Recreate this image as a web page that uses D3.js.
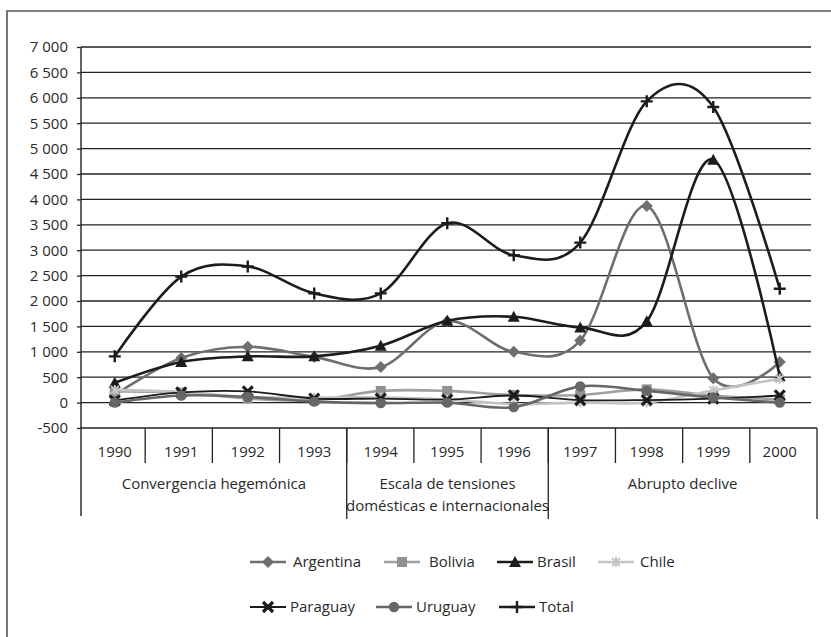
<!DOCTYPE html>
<html>
<head>
<meta charset="utf-8">
<script src="https://cdn.jsdelivr.net/npm/d3@7/dist/d3.min.js"></script>
<style>
  html, body { margin: 0; padding: 0; background: #fff; }
  svg { display: block; font-family: "Open Sans", "DejaVu Sans", sans-serif; }
</style>
</head>
<body>
<svg id="chart" width="831" height="637"></svg>
<script>
// ---------------- DATA ----------------
const years = ["1990","1991","1992","1993","1994","1995","1996","1997","1998","1999","2000"];
const yTickValues = [-500, 0, 500, 1000, 1500, 2000, 2500, 3000, 3500, 4000, 4500, 5000, 5500, 6000, 6500, 7000];

const argentina = [150, 880, 1100, 900, 700, 1600, 1000, 1220, 3870, 480, 800];
const bolivia   = [220, 200, 80, 50, 230, 230, 150, 150, 260, 140, 60];
const brasil    = [390, 800, 910, 910, 1120, 1610, 1690, 1480, 1600, 4780, 520];
const chile     = [250, 210, 110, 100, 100, 60, -30, 0, 0, 240, 470];
const paraguay  = [40, 200, 220, 80, 80, 60, 140, 50, 50, 80, 140];
const uruguay   = [0, 140, 110, 20, -10, 0, -90, 320, 230, 100, 0];
const total     = [910, 2480, 2680, 2150, 2150, 3530, 2900, 3150, 5930, 5820, 2240];

const periodNames = [["Convergencia hegemónica"], ["Escala de tensiones", "domésticas e internacionales"], ["Abrupto declive"]];
const periodStart = ["1990", "1994", "1997"];
const periodEnd   = ["1993", "1996", "2000"];

const seriesNames = ["Argentina", "Bolivia", "Brasil", "Chile", "Paraguay", "Uruguay", "Total"];
const seriesValues = [argentina, bolivia, brasil, chile, paraguay, uruguay, total];

// ---------------- STYLE ----------------
const styles = {
  Argentina: { color: "#6e6e6e", width: 2.6, marker: "diamond", mcolor: "#6e6e6e" },
  Bolivia:   { color: "#a0a0a0", width: 2.6, marker: "square",  mcolor: "#919191" },
  Brasil:    { color: "#1c1c1c", width: 2.6, marker: "triangle", mcolor: "#1c1c1c" },
  Chile:     { color: "#c4c4c4", width: 2.6, marker: "star",    mcolor: "#c4c4c4" },
  Paraguay:  { color: "#1c1c1c", width: 1.8, marker: "x",       mcolor: "#1c1c1c" },
  Uruguay:   { color: "#666666", width: 2.6, marker: "circle",  mcolor: "#666666" },
  Total:     { color: "#1c1c1c", width: 2.6, marker: "plus",    mcolor: "#1c1c1c" }
};

const svg = d3.select("#chart");
const W = 831, H = 637;
const plotLeft = 81, plotRight = 811, plotTop = 47, plotBottom = 428;

// outer frame (only top and left edges are inside the picture)
svg.append("path")
  .attr("d", `M7,${H} L7,11 L${W},11`)
  .attr("fill", "none").attr("stroke", "#555").attr("stroke-width", 1.6);

const y = d3.scaleLinear().domain([-500, 7000]).range([plotBottom, plotTop]);
const x = d3.scaleBand().domain(years).range([81.5, 813]);
const xTable = d3.scaleBand().domain(years).range([78, 817]);

const loc = d3.formatLocale({ decimal: ",", thousands: " ", grouping: [3], currency: ["", ""], minus: "-" });
const fmt = loc.format(",d");

// gridlines
svg.append("g").selectAll("line").data(yTickValues.filter(v => v !== -500)).join("line")
  .attr("x1", plotLeft).attr("x2", plotRight)
  .attr("y1", d => y(d)).attr("y2", d => y(d))
  .attr("stroke", "#222").attr("stroke-width", 1.3);

// y axis
const yAxis = svg.append("g").attr("transform", `translate(${plotLeft},0)`)
  .call(d3.axisLeft(y).tickValues(yTickValues).tickFormat(fmt).tickSize(4).tickPadding(9));
yAxis.select(".domain").remove();
yAxis.selectAll(".tick line").attr("stroke", "#222").attr("stroke-width", 1.3);
yAxis.selectAll(".tick text").attr("fill", "#2a2a2a").style("font-size", "15px")
  .style("font-family", "'Open Sans', sans-serif");

// left axis line (extends through the category table)
svg.append("line").attr("x1", plotLeft).attr("x2", plotLeft).attr("y1", plotTop).attr("y2", 516)
  .attr("stroke", "#222").attr("stroke-width", 1.4);

// category table: top line
svg.append("line").attr("x1", plotLeft).attr("x2", xTable.range()[1])
  .attr("y1", y(-500)).attr("y2", y(-500))
  .attr("stroke", "#222").attr("stroke-width", 1.3);

// year dividers
svg.append("g").selectAll("line").data(years.slice(1)).join("line")
  .attr("x1", d => xTable(d)).attr("x2", d => xTable(d))
  .attr("y1", y(-500)).attr("y2", 463)
  .attr("stroke", "#222").attr("stroke-width", 1.3);

// period dividers + right edge
const periodLines = periodStart.slice(1).map(d => xTable(d)).concat([xTable.range()[1]]);
svg.append("g").selectAll("line").data(periodLines).join("line")
  .attr("x1", d => d).attr("x2", d => d)
  .attr("y1", y(-500)).attr("y2", 519)
  .attr("stroke", "#222").attr("stroke-width", 1.3);

// year labels
svg.append("g").selectAll("text").data(years).join("text")
  .attr("x", d => x(d) + x.bandwidth() / 2).attr("y", 452).attr("dy", "0.35em")
  .attr("text-anchor", "middle").attr("fill", "#2a2a2a").style("font-size", "15px")
  .text(d => d);

// period labels
periodNames.forEach((lines, i) => {
  const x0 = i === 0 ? plotLeft : xTable(periodStart[i]);
  const x1 = i === periodNames.length - 1 ? xTable.range()[1] : xTable(periodStart[i + 1]);
  const cx = (x0 + x1) / 2;
  lines.forEach((t, j) => {
    svg.append("text").attr("x", cx).attr("y", 484 + j * 22).attr("dy", "0.35em")
      .attr("text-anchor", "middle").attr("fill", "#2a2a2a").style("font-size", "15px")
      .text(t);
  });
});

// markers
function drawMarker(g, type, cx, cy, color) {
  switch (type) {
    case "diamond":
      g.append("path").attr("d", `M${cx},${cy-6} L${cx+6},${cy} L${cx},${cy+6} L${cx-6},${cy} Z`).attr("fill", color);
      break;
    case "square":
      g.append("rect").attr("x", cx - 5).attr("y", cy - 5).attr("width", 10).attr("height", 10).attr("fill", color);
      break;
    case "triangle":
      g.append("path").attr("d", `M${cx},${cy-6} L${cx+6},${cy+5} L${cx-6},${cy+5} Z`).attr("fill", color);
      break;
    case "circle":
      g.append("circle").attr("cx", cx).attr("cy", cy).attr("r", 5.2).attr("fill", color);
      break;
    case "x":
      g.append("path").attr("d", `M${cx-5},${cy-5} L${cx+5},${cy+5} M${cx+5},${cy-5} L${cx-5},${cy+5}`)
        .attr("stroke", color).attr("stroke-width", 3.2).attr("fill", "none");
      break;
    case "plus":
      g.append("path").attr("d", `M${cx-6},${cy} L${cx+6},${cy} M${cx},${cy-6} L${cx},${cy+6}`)
        .attr("stroke", color).attr("stroke-width", 2.4).attr("fill", "none");
      break;
    case "star":
      g.append("path").attr("d", `M${cx-4},${cy-4} L${cx+4},${cy+4} M${cx+4},${cy-4} L${cx-4},${cy+4} M${cx},${cy-5} L${cx},${cy+5}`)
        .attr("stroke", color).attr("stroke-width", 2).attr("fill", "none");
      break;
  }
}

const line = d3.line()
  .x((d, i) => x(years[i]) + x.bandwidth() / 2)
  .y(d => y(d))
  .curve(d3.curveCardinal.tension(0));

const seriesG = svg.append("g");
seriesNames.forEach((name, k) => {
  const st = styles[name];
  const g = seriesG.append("g");
  g.append("path").datum(seriesValues[k]).attr("d", line)
    .attr("fill", "none").attr("stroke", st.color).attr("stroke-width", st.width)
    .attr("stroke-linejoin", "round");
  seriesValues[k].forEach((v, i) => {
    drawMarker(g, st.marker, x(years[i]) + x.bandwidth() / 2, y(v), st.mcolor);
  });
});

// legend
const legendRows = [["Argentina", "Bolivia", "Brasil", "Chile"], ["Paraguay", "Uruguay", "Total"]];
const legendX = [[250, 384, 497, 598], [250, 376, 499]];
const legendTextGap = [7, 9, 4, 6];
const legendY = [562, 607];
const lg = svg.append("g");
legendRows.forEach((row, r) => {
  row.forEach((name, c) => {
    const st = styles[name];
    const lx = legendX[r][c];
    const ly = legendY[r];
    lg.append("line").attr("x1", lx).attr("x2", lx + 36).attr("y1", ly).attr("y2", ly)
      .attr("stroke", st.color).attr("stroke-width", st.width);
    drawMarker(lg, st.marker, lx + 18, ly, st.mcolor);
    lg.append("text").attr("x", lx + 36 + (r === 0 ? legendTextGap[c] : 4)).attr("y", ly).attr("dy", "0.35em")
      .attr("fill", "#2a2a2a").style("font-size", "15px").text(name);
  });
});
</script>
</body>
</html>
